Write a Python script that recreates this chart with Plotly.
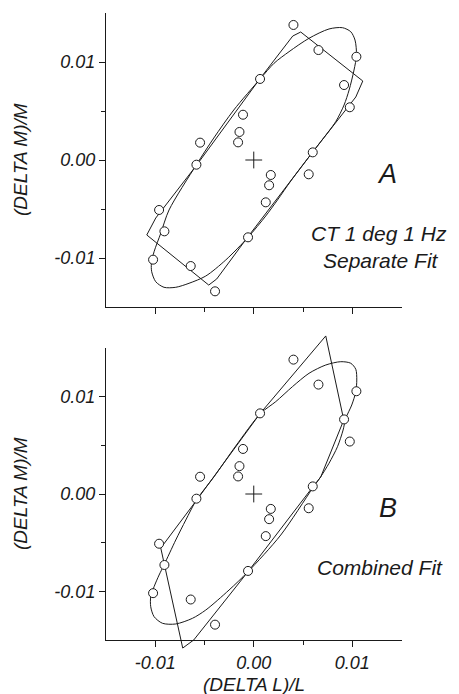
import plotly.graph_objects as go

# ---- measured responses (shared by both panels) ----
pts_dl = [0.00403, 0.00657, 0.01042, 0.00917, 0.00975, 0.00064, -0.00109, -0.00145,
          -0.00159, -0.00545, -0.00582, 0.00599, 0.00558, 0.00173, 0.00156, 0.00122,
          -0.00058, -0.00961, -0.00907, -0.01022, -0.00640, -0.00393]
pts_dm = [0.01378, 0.01122, 0.01054, 0.00765, 0.00538, 0.00827, 0.00462, 0.00286,
          0.00180, 0.00177, -0.00048, 0.00078, -0.00146, -0.00153, -0.00258, -0.00432,
          -0.00789, -0.00510, -0.00728, -0.01017, -0.01082, -0.01340]

# ---- panel A: separate fit ----
loop_a_dl = [0.00071, 0.00206, 0.00358, 0.00561, 0.00764, 0.00901, 0.00985, 0.01028,
             0.01043, 0.01018, 0.00968, 0.00917, 0.00832, 0.00680, 0.00599, 0.00376,
             0.00241, 0.00122, -0.00058, -0.00284, -0.00487, -0.00657, -0.00792,
             -0.00911, -0.00995, -0.01036, -0.01039, -0.01012, -0.00944, -0.00860,
             -0.00582, -0.00406, -0.00203, 0.00071]
loop_a_dm = [0.00834, 0.00987, 0.01105, 0.01242, 0.01337, 0.01350, 0.01309, 0.01224,
             0.01071, 0.00918, 0.00714, 0.00561, 0.00391, 0.00187, 0.00082, -0.00214,
             -0.00408, -0.00571, -0.00789, -0.01020, -0.01184, -0.01258, -0.01299,
             -0.01299, -0.01242, -0.01140, -0.01054, -0.00936, -0.00748, -0.00510,
             -0.00048, 0.00224, 0.00510, 0.00834]
poly_a_dl = [0.00477, 0.01107, 0.01036, 0.00599, -0.00061, -0.00376, -0.00457, -0.01086,
             -0.00995, -0.00579, 0.00061, 0.00396, 0.00477]
poly_a_dm = [0.01306, 0.00806, 0.00643, 0.00082, -0.00786, -0.01214, -0.01276, -0.00765,
             -0.00592, -0.00051, 0.00827, 0.01265, 0.01306]

# ---- panel B: combined fit ----
loop_b_dl = [0.00071, 0.00223, 0.00393, 0.00561, 0.00731, 0.00883, 0.00985, 0.01036,
             0.01046, 0.01036, 0.00995, 0.00934, 0.00907, 0.00850, 0.00764, 0.00680,
             0.00599, 0.00274, -0.00061, -0.00251, -0.00487, -0.00622, -0.00792,
             -0.00927, -0.01012, -0.01046, -0.01046, -0.01012, -0.00961, -0.00911,
             -0.00792, -0.00690, -0.00582, -0.00403, -0.00183, 0.00071]
loop_b_dm = [0.00828, 0.00947, 0.01101, 0.01238, 0.01323, 0.01357, 0.01341, 0.01279,
             0.01169, 0.01049, 0.00913, 0.00776, 0.00656, 0.00485, 0.00315, 0.00177,
             0.00062, -0.00421, -0.00800, -0.00985, -0.01190, -0.01275, -0.01333,
             -0.01326, -0.01258, -0.01156, -0.01053, -0.00951, -0.00831, -0.00728,
             -0.00472, -0.00267, -0.00062, 0.00177, 0.00492, 0.00828]
poly_b_dl = [0.00731, 0.00914, 0.00680, 0.00599, -0.00061, -0.00609, -0.00721, -0.00904,
             -0.00944, -0.00579, 0.00061, 0.00731]
poly_b_dm = [0.01621, 0.00759, 0.00174, 0.00072, -0.00800, -0.01497, -0.01580, -0.00749,
             -0.00554, -0.00062, 0.00821, 0.01621]

tick_vals = [-0.01, 0.0, 0.01]
tick_text = ["-0.01", "0.00", "0.01"]
minor_vals = [-0.005, 0.005]

# ---- page geometry (pixels) ----
W, H = 459, 694
X_LEFT, X_RIGHT = 106, 401.5
A_TOP, A_BOT = 13, 307
B_TOP, B_BOT = 347.75, 640.25
LIM = 0.015
B_LIM = 0.018
FONT = "Liberation Sans, Arial, sans-serif"
INK = "#1a1a1a"


def px_x(p):
    return p / W


def px_y(p):
    return 1 - p / H


b_ext = (B_LIM - LIM) / (2 * LIM) * (B_BOT - B_TOP)

fig = go.Figure()

line_style = dict(color=INK, width=1)
marker_style = dict(symbol="circle", size=9, color="white", line=dict(color=INK, width=1))
cross_style = dict(symbol="cross-thin", size=12, line=dict(color=INK, width=1))


def add_panel(xa, ya, loop_x, loop_y, poly_x, poly_y):
    fig.add_trace(go.Scatter(x=loop_x, y=loop_y, mode="lines", xaxis=xa, yaxis=ya,
                             line=dict(shape="spline", smoothing=0.8, **line_style),
                             hoverinfo="skip"))
    fig.add_trace(go.Scatter(x=poly_x, y=poly_y, mode="lines", xaxis=xa, yaxis=ya,
                             line=line_style, hoverinfo="skip"))
    fig.add_trace(go.Scatter(x=pts_dl, y=pts_dm, mode="markers", xaxis=xa, yaxis=ya,
                             marker=marker_style, cliponaxis=False))
    fig.add_trace(go.Scatter(x=[0], y=[0], mode="markers", xaxis=xa, yaxis=ya,
                             marker=cross_style))


add_panel("x", "y", loop_a_dl, loop_a_dm, poly_a_dl, poly_a_dm)
add_panel("x3", "y3", loop_b_dl, loop_b_dm, poly_b_dl, poly_b_dm)
# keeps the visible B axes populated
fig.add_trace(go.Scatter(x=[None], y=[None], xaxis="x2", yaxis="y2", mode="markers"))

tick_font = dict(family=FONT, size=18, color=INK, style="italic")
common_x = dict(range=[-LIM, LIM], domain=[px_x(X_LEFT), px_x(X_RIGHT)],
                showline=True, linecolor=INK, linewidth=1, mirror=False,
                ticks="outside", ticklen=6, tickwidth=1, tickcolor=INK,
                tickmode="array", tickvals=tick_vals, ticktext=tick_text,
                tickfont=tick_font, showgrid=False, zeroline=False, fixedrange=True,
                minor=dict(tickmode="array", tickvals=minor_vals, ticks="outside",
                           ticklen=4, tickcolor=INK, showgrid=False))
common_y = dict(common_x)
common_y.pop("domain")

fig.update_layout(
    width=W, height=H, margin=dict(l=0, r=0, t=0, b=0),
    paper_bgcolor="white", plot_bgcolor="rgba(0,0,0,0)", showlegend=False,
    xaxis=dict(common_x, anchor="y", showticklabels=False),
    yaxis=dict(common_y, anchor="x", domain=[px_y(A_BOT), px_y(A_TOP)]),
    xaxis2=dict(common_x, anchor="y2"),
    yaxis2=dict(common_y, anchor="x2", domain=[px_y(B_BOT), px_y(B_TOP)]),
    xaxis3=dict(range=[-LIM, LIM], domain=[px_x(X_LEFT), px_x(X_RIGHT)],
                anchor="y3", visible=False, fixedrange=True),
    yaxis3=dict(range=[-B_LIM, B_LIM], anchor="x3", visible=False, fixedrange=True,
                domain=[px_y(B_BOT + b_ext), px_y(B_TOP - b_ext)]),
)

ann_font = dict(family=FONT, color=INK, style="italic")
labels = [
    ("(DELTA M)/M", 20, (A_TOP + A_BOT) / 2, 19, -90),
    ("(DELTA M)/M", 20, (B_TOP + B_BOT) / 2, 19, -90),
    ("(DELTA L)/L", (X_LEFT + X_RIGHT) / 2, 684, 19, 0),
    ("A", 387, 174, 27, 0),
    ("CT 1 deg 1 Hz", 379, 234, 21, 0),
    ("Separate Fit", 381, 260, 21, 0),
    ("B", 388, 508, 27, 0),
    ("Combined Fit", 380, 567, 21, 0),
]
for text, x, y, size, angle in labels:
    fig.add_annotation(text=text, x=px_x(x), y=px_y(y), xref="paper", yref="paper",
                       xanchor="center", yanchor="middle", showarrow=False,
                       textangle=angle, font=dict(ann_font, size=size))

fig.write_html("out.html")
